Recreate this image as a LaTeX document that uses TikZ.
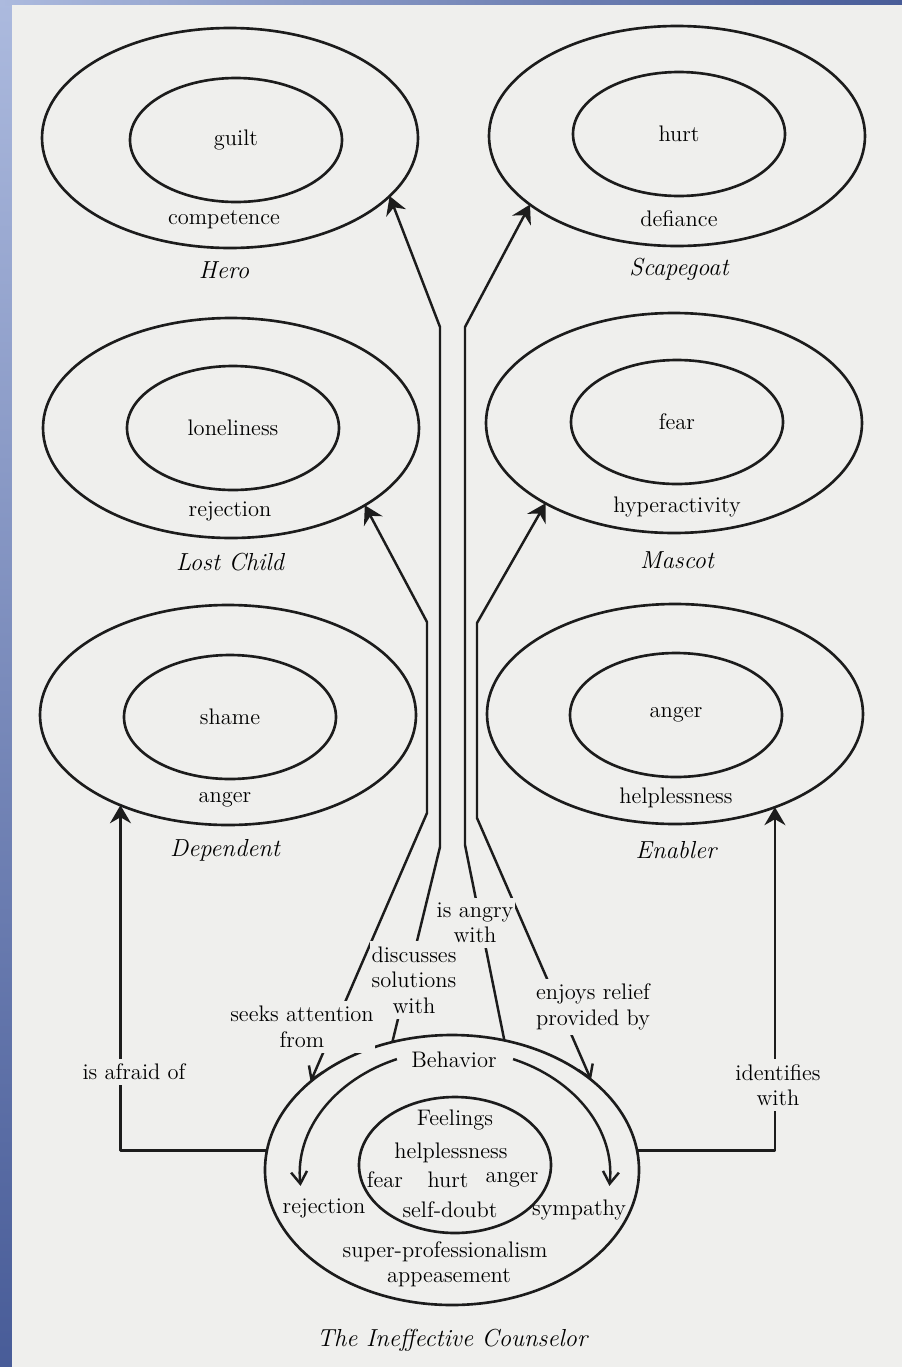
\documentclass[tikz,border=0pt]{standalone}
\usetikzlibrary{shapes.geometric,arrows.meta}
\definecolor{paper}{RGB}{239,239,237}
\definecolor{ink}{RGB}{28,28,28}
\definecolor{frametop}{RGB}{172,186,222}
\definecolor{framebot}{RGB}{72,92,152}

\begin{document}
\begin{tikzpicture}[x=0.2mm,y=-0.2mm,
  font=\fontsize{12.8}{14.5}\selectfont,
  role/.style={draw=ink,line width=1.5pt,ellipse,inner sep=0pt,outer sep=0pt,
    minimum width=75.2mm,minimum height=44mm},
  feel/.style={draw=ink,line width=1.5pt,ellipse,inner sep=0pt,outer sep=0pt,
    minimum width=42.4mm,minimum height=24.8mm},
  rolename/.style={font=\fontsize{14}{16}\selectfont\itshape},
  lbl/.style={fill=paper,align=center,inner xsep=1pt,inner ysep=3pt},
  link/.style={draw=ink,line width=1.4pt,line join=round,
    -{Stealth[length=3.6mm,width=4.2mm,inset=1.2mm]}},
  twoway/.style={draw=ink,line width=1.4pt,line join=round,
    {Straight Barb[length=2.4mm,width=3.2mm]}-{Stealth[length=3.6mm,width=4.2mm,inset=1.2mm]}},
  turn/.style={draw=ink,line width=1.4pt,-{Straight Barb[length=2.4mm,width=3.2mm]}}]

  % page
  \useasboundingbox (0,0) rectangle (902,1367);
  \fill[top color=frametop,bottom color=framebot] (0,0) rectangle (12,1367);
  \fill[left color=frametop,right color=framebot] (0,0) rectangle (902,5);
  \fill[paper] (12,5) rectangle (902,1367);

  % the six roles
  \node[role] (hero) at (230,138) {};
  \node[feel] (guilt) at (236,140) {guilt};
  \node (comp) at (224,220) {competence};
  \node[rolename] (heroname) at (224,270) {Hero};

  \node[role] (scape) at (677,136) {};
  \node[feel] (hurt) at (679,134) {hurt};
  \node (defi) at (679,219) {defiance};
  \node[rolename] (scapename) at (679,269) {Scapegoat};

  \node[role] (lost) at (231,428) {};
  \node[feel] (lonely) at (233,428) {loneliness};
  \node (rejl) at (230,511) {rejection};
  \node[rolename] (lostname) at (230,562) {Lost Child};

  \node[role] (mascot) at (674,423) {};
  \node[feel] (fearm) at (677,422) {fear};
  \node (hyper) at (677,507) {hyperactivity};
  \node[rolename] (mascotname) at (677,560) {Mascot};

  \node[role] (dep) at (228,715) {};
  \node[feel] (shame) at (230,717) {shame};
  \node (angd) at (225,800) {anger};
  \node[rolename] (depname) at (225,850) {Dependent};

  \node[role] (enab) at (675,714) {};
  \node[feel] (ange) at (676,715) {anger};
  \node (helpe) at (676,798) {helplessness};
  \node[rolename] (enabname) at (676,850) {Enabler};

  % the counselor
  \node[draw=ink,line width=1.5pt,ellipse,inner sep=0pt,outer sep=0pt,
    minimum width=74.8mm,minimum height=54mm] (cnsl) at (452,1170) {};
  \node[draw=ink,line width=1.5pt,ellipse,inner sep=0pt,outer sep=0pt,
    minimum width=38.4mm,minimum height=27.2mm] (cfeel) at (455,1165) {};
  \node (beh) at (454,1060) {Behavior};
  \node (feelings) at (455,1120) {Feelings};
  \node (helpc) at (451,1153) {helplessness};
  \node (fearc) at (385,1180) {fear};
  \node (hurtc) at (448,1180) {hurt};
  \node (angc) at (512,1180) {anger};
  \node (doubt) at (450,1210) {self-doubt};
  \node (rejc) at (324,1208) {rejection};
  \node (symp) at (579,1210) {sympathy};
  \node (superp) at (445,1252) {super-professionalism};
  \node (appe) at (449,1278) {appeasement};
  \node[rolename] (cname) at (452,1340) {The Ineffective Counselor};

  \draw[turn] (455,1175) ++(248:155 and 125) arc[start angle=248,end angle=175,x radius=155,y radius=125];
  \draw[turn] (455,1175) ++(-68:155 and 125) arc[start angle=-68,end angle=5,x radius=155,y radius=125];

  % bends of the funnel
  \coordinate (h1) at (440,327);
  \coordinate (h2) at (440,847);
  \coordinate (s1) at (465,327);
  \coordinate (s2) at (465,845);
  \coordinate (l1) at (427,622);
  \coordinate (l2) at (427,813);
  \coordinate (m1) at (477,623);
  \coordinate (m2) at (477,818);

  \draw[link] (cnsl.115) -- (h2) -- (h1) -- (hero.-20.5);
  \draw[link] (cnsl.68) -- (s2) -- (s1) -- (scape.-155.6);
  \draw[twoway] (cnsl.148) -- (l2) -- (l1) -- (lost.-30.9);
  \draw[twoway] (cnsl.33) -- (m2) -- (m1) -- (mascot.-148.3);
  \draw[link] (cnsl.174) -| (dep.220.6);
  \draw[link] (cnsl.6.2) -| (enab.-43.5);

  \node[lbl] (afraid) at (134,1072) {is afraid of};
  \node[lbl] (ident) at (778,1085) {identifies\\with};
  \node[lbl] (discuss) at (414,980) {discusses\\solutions\\with};
  \node[lbl] (seeks) at (302,1027) {seeks attention\\from};
  \node[lbl] (angry) at (475,923) {is angry\\with};
  \node[lbl] (relief) at (593,1007) {enjoys relief\\provided by};
\end{tikzpicture}
\end{document}
